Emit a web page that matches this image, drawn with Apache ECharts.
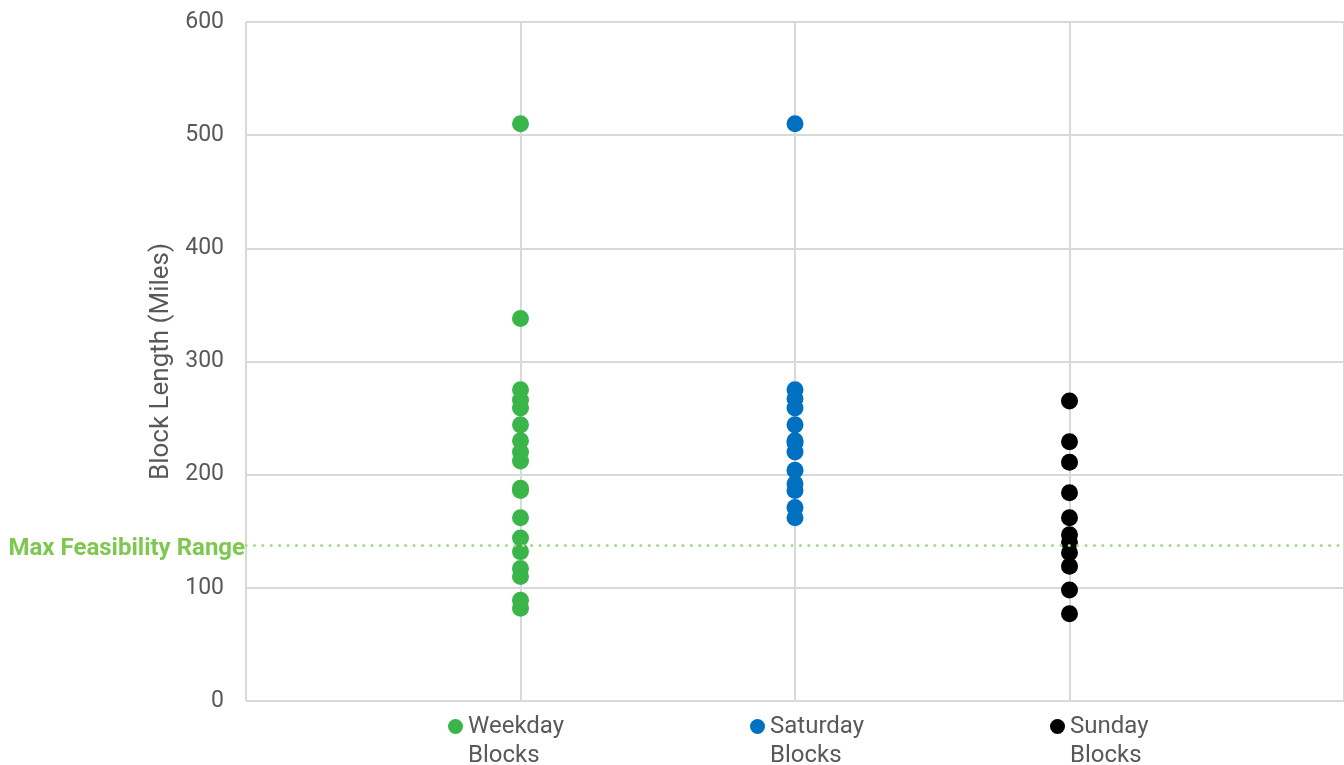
<!DOCTYPE html>
<html>
<head>
<meta charset="utf-8">
<title>Block Length</title>
<script src="https://cdn.jsdelivr.net/npm/echarts@6/dist/echarts.min.js"></script>
<style>
  html, body { margin: 0; padding: 0; background: #fff; }
  #chart { width: 1344px; height: 765px; }
</style>
</head>
<body>
<div id="chart"></div>
<script>
// block lengths (miles)
var weekday = [510, 338, 275, 266, 259, 244, 230, 220, 212, 188, 186, 162, 144, 132, 117, 110, 89, 82];
var saturday = [510, 275, 267, 259, 244, 230, 228, 220, 204, 192, 186, 171, 162];
var sunday = [265, 229, 211, 184, 162, 147, 140, 131, 119, 98, 77];
var names = ['Weekday Blocks', 'Saturday Blocks', 'Sunday Blocks'];
var colors = ['#39b54a', '#0070c0', '#000000'];
var maxFeasible = 138;

var chart = echarts.init(document.getElementById('chart'));
var sets = [weekday, saturday, sunday];
var txt = '#595959';

var series = sets.map(function (vals, i) {
  var s = {
    name: names[i],
    type: 'scatter',
    symbolSize: 17,
    itemStyle: { color: colors[i], opacity: 1 },
    data: vals.map(function (v) { return [i + 1, v]; })
  };
  if (i === 0) {
    s.markLine = {
      silent: true,
      symbol: 'none',
      lineStyle: { color: '#a9da8c', width: 3, type: [0.1, 8.3], cap: 'round' },
      label: {
        position: 'start',
        formatter: 'Max Feasibility Range',
        color: '#7ec850',
        fontWeight: 'bold',
        fontSize: 24,
        fontFamily: 'Roboto',
        distance: 1,
        offset: [0, 4]
      },
      data: [{ yAxis: maxFeasible }]
    };
  }
  return s;
});

// one legend per category so each sits under its column
var lefts = [443, 745, 1045];
var legends = names.map(function (n, i) {
  return {
    data: [n],
    left: lefts[i],
    top: 678,
    icon: 'circle',
    itemWidth: 15,
    itemHeight: 15,
    itemGap: 0,
    // leading blank line keeps the icon level with the first word
    formatter: function (name) { return '\n' + name.replace(' ', '\n'); },
    textStyle: {
      color: txt,
      fontSize: 24,
      fontFamily: 'Roboto',
      lineHeight: 29
    }
  };
});

chart.setOption({
  animation: false,
  grid: { left: 246, right: 0, top: 22, bottom: 64 },
  legend: legends,
  xAxis: {
    type: 'value',
    min: 0,
    max: 4,
    interval: 1,
    axisLine: { show: false },
    axisTick: { show: false },
    axisLabel: { show: false },
    splitLine: { show: true, lineStyle: { color: '#d9d9d9', width: 2 } }
  },
  yAxis: {
    type: 'value',
    min: 0,
    max: 600,
    interval: 100,
    name: 'Block Length (Miles)',
    nameLocation: 'middle',
    nameGap: 70,
    nameTextStyle: { color: txt, fontSize: 26, fontFamily: 'Roboto' },
    axisLine: { show: false },
    axisTick: { show: false },
    axisLabel: { color: txt, fontSize: 23, fontFamily: 'Roboto', margin: 22 },
    splitLine: { show: true, lineStyle: { color: '#d9d9d9', width: 2 } }
  },
  series: series
});
</script>
</body>
</html>
